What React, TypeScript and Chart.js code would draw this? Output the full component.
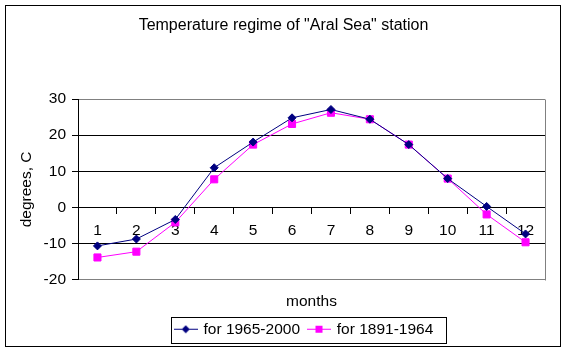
import React, { useEffect, useRef } from "react";
import { Chart, registerables } from "chart.js";

Chart.register(...registerables);

const months = ["1", "2", "3", "4", "5", "6", "7", "8", "9", "10", "11", "12"];
const recent = [-10.6, -8.7, -3.3, 11.0, 18.1, 24.8, 27.1, 24.4, 17.4, 8.0, 0.3, -7.3];
const older = [-13.8, -12.2, -4.1, 7.8, 17.4, 23.1, 26.2, 24.4, 17.4, 8.0, -1.9, -9.6];
const seriesNames = ["for 1965-2000", "for 1891-1964"];
const titleText = 'Temperature regime of "Aral Sea" station';
const yTitle = "degrees, C";
const xTitle = "months";

const FONT = "'Liberation Sans', Arial, sans-serif";
const NAVY = "#000080";
const MAGENTA = "#FF00FF";
const FS = 15.5;

function legendImage(color: string, shape: "diamond" | "square") {
  const c = document.createElement("canvas");
  c.width = 24;
  c.height = 9;
  const g = c.getContext("2d")!;
  g.strokeStyle = color;
  g.lineWidth = 1;
  g.beginPath();
  g.moveTo(0, 4.5);
  g.lineTo(24, 4.5);
  g.stroke();
  g.fillStyle = color;
  if (shape === "diamond") {
    g.beginPath();
    g.moveTo(12, 0.5);
    g.lineTo(16, 4.5);
    g.lineTo(12, 8.5);
    g.lineTo(8, 4.5);
    g.closePath();
    g.fill();
  } else {
    g.fillRect(8.5, 1, 7, 7);
  }
  return c;
}

export default function App() {
  const ref = useRef<HTMLCanvasElement>(null);
  useEffect(() => {
    const canvas = ref.current!;
    const images = [legendImage(NAVY, "diamond"), legendImage(MAGENTA, "square")];
    const framePlugin = {
      id: "frame",
      afterLayout(chart: any) {
        const lg = chart.legend;
        if (lg && lg.lineWidths && lg.lineWidths.length) lg.lineWidths[0] += 14;
      },
      beforeDatasetsDraw(chart: any) {
        const { ctx, chartArea } = chart;
        ctx.save();
        ctx.strokeStyle = "#808080";
        ctx.lineWidth = 1;
        ctx.beginPath();
        const r = Math.round(chartArea.right) + 0.5;
        ctx.moveTo(r, Math.round(chartArea.top) + 0.5);
        ctx.lineTo(r, Math.round(chartArea.bottom) + 0.5);
        ctx.stroke();
        ctx.restore();
      },
      afterDraw(chart: any) {
        const { ctx } = chart;
        ctx.save();
        ctx.strokeStyle = "#000";
        ctx.lineWidth = 1;
        ctx.strokeRect(5.5, 5.5, 555, 341);
        const hb = chart.legend?.legendHitBoxes || [];
        if (hb.length) {
          let x1 = Infinity, x2 = -Infinity, y1 = Infinity, y2 = -Infinity;
          hb.forEach((h: any) => {
            x1 = Math.min(x1, h.left);
            x2 = Math.max(x2, h.left + h.width);
            y1 = Math.min(y1, h.top);
            y2 = Math.max(y2, h.top + h.height);
          });
          ctx.strokeRect(Math.round(x1 - 5) + 0.5, Math.round(y1 - 5) + 0.5, Math.round(x2 - x1 + 17), Math.round(y2 - y1 + 10));
        }
        ctx.restore();
      },
    };
    const chart = new Chart(canvas, {
      type: "line",
      data: {
        labels: months,
        datasets: [
          {
            label: seriesNames[0],
            data: recent,
            borderColor: NAVY,
            backgroundColor: NAVY,
            borderWidth: 1,
            pointStyle: "rectRot",
            pointRadius: 4,
            pointBorderWidth: 1,
            tension: 0,
          },
          {
            label: seriesNames[1],
            data: older,
            borderColor: MAGENTA,
            backgroundColor: MAGENTA,
            borderWidth: 1,
            pointStyle: "rect",
            pointRadius: 5,
            pointBorderWidth: 1,
            tension: 0,
          },
        ],
      },
      options: {
        animation: false,
        responsive: false,
        devicePixelRatio: 1,
        layout: { padding: { left: 0, top: 0, right: 0, bottom: 6 } },
        scales: {
          y: {
            min: -20,
            max: 30,
            ticks: { stepSize: 10, color: "#000", font: { family: FONT, size: FS }, padding: 6 },
            grid: {
              color: (c: any) => (c.tick && (c.tick.value === 30 || c.tick.value === -20) ? "#808080" : "#000"),
              tickColor: "#000",
              tickLength: 6,
              lineWidth: 1,
            },
            border: { color: "#000", width: 1 },
            title: { display: true, text: yTitle, color: "#000", font: { family: FONT, size: FS }, padding: { top: 17, bottom: 0 } },
            afterFit: (s: any) => {
              s.width = 78;
            },
          },
          yRightSpace: {
            position: "right",
            display: true,
            ticks: { display: false },
            grid: { display: false },
            border: { display: false },
            afterFit: (s: any) => {
              s.width = 22;
            },
          },
          x: {
            position: { y: 0 } as any,
            offset: true,
            ticks: { color: "#000", font: { family: FONT, size: FS }, padding: 8, maxRotation: 0, autoSkip: false },
            grid: { offset: true, drawOnChartArea: false, tickLength: 6, tickColor: "#000", color: "#000" },
            border: { display: false },
            afterFit: (s: any) => {
              s.height = 0;
            },
          },
        },
        plugins: {
          title: {
            display: true,
            text: titleText,
            color: "#000",
            font: { family: FONT, size: 16, weight: "normal" },
            padding: { top: 16, bottom: 63.8 },
          },
          legend: {
            position: "bottom",
            fullSize: false,
            title: { display: true, text: xTitle, color: "#000", font: { family: FONT, size: FS }, padding: { top: 14, bottom: 0 } },
            labels: {
              color: "#000",
              font: { family: FONT, size: FS },
              usePointStyle: true,
              pointStyleWidth: 20,
              padding: 9,
              generateLabels: (ch: any) => {
                const base = Chart.defaults.plugins.legend.labels.generateLabels(ch);
                return base.map((it: any, i: number) => ({ ...it, pointStyle: images[i] }));
              },
            },
          },
          tooltip: { enabled: false },
        },
      },
      plugins: [framePlugin],
    } as any);
    return () => chart.destroy();
  }, []);
  return (
    <div style={{ position: "fixed", left: 0, top: 0, width: 567, height: 353, background: "#fff" }}>
      <canvas ref={ref} width={567} height={353} style={{ display: "block" }} />
    </div>
  );
}
